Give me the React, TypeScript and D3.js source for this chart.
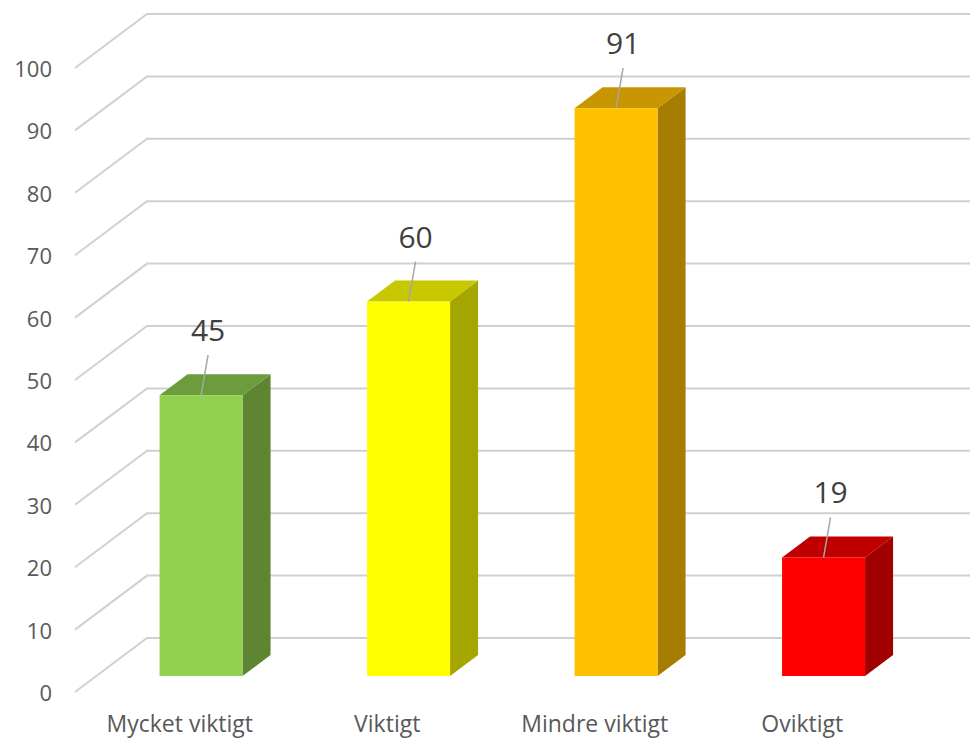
import React from "react";
import * as d3 from "d3";

const categories = ["Mycket viktigt", "Viktigt", "Mindre viktigt", "Oviktigt"];
const values = [45, 60, 91, 19];
const frontColors = ["#92d050", "#ffff00", "#ffc000", "#ff0000"];
const topColors = ["#6c9c3c", "#c8c800", "#c89600", "#c00000"];
const sideColors = ["#5e8532", "#a6a600", "#a67d00", "#a00000"];
const yTicks = [0, 10, 20, 30, 40, 50, 60, 70, 80, 90, 100];

const W = 970;
const H = 738;
const DEPTH_X = 72;
const DEPTH_Y = -54;
const Z_FRONT = 0.296;
const Z_BACK = 0.685;
const FONT = "'Open Sans', 'Liberation Sans', sans-serif";

export default function App() {
  const y = d3.scaleLinear().domain([0, 100]).range([692, 68]);
  const x = d3
    .scaleBand<string>()
    .domain(categories)
    .range([76, 906])
    .paddingInner(0.6)
    .paddingOuter(0.3);
  const bw = x.bandwidth();
  const fdx = DEPTH_X * Z_FRONT;
  const fdy = DEPTH_Y * Z_FRONT;
  const bdx = DEPTH_X * Z_BACK;
  const bdy = DEPTH_Y * Z_BACK;
  const pts = (p: [number, number][]) => p.map((q) => q.join(",")).join(" ");

  return (
    <svg
      width={W}
      height={H}
      style={{ position: "absolute", left: 0, top: 0, background: "#fff" }}
      fontFamily={FONT}
    >
      {yTicks.map((t) => (
        <g key={t}>
          <polyline
            points={pts([
              [75, y(t)],
              [75 + DEPTH_X, y(t) + DEPTH_Y],
              [W, y(t) + DEPTH_Y],
            ])}
            fill="none"
            stroke="#d0d0d0"
            strokeWidth={2}
          />
          <text
            x={52}
            y={y(t)}
            textAnchor="end"
            dominantBaseline="central"
            fontSize={22}
            fill="#595959"
          >
            {t}
          </text>
        </g>
      ))}
      {categories.map((c, i) => {
        const v = values[i];
        const x0 = (x(c) as number) + fdx;
        const x1 = x0 + bw;
        const yt = y(v) + fdy;
        const yb = y(0) + fdy;
        const ddx = bdx - fdx;
        const ddy = bdy - fdy;
        const cx = x0 + bw / 2;
        const labelY = yt - 54;
        const labelX = cx + 7;
        return (
          <g key={c}>
            <polygon
              points={pts([
                [x1, yt],
                [x1 + ddx, yt + ddy],
                [x1 + ddx, yb + ddy],
                [x1, yb],
              ])}
              fill={sideColors[i]}
            />
            <polygon
              points={pts([
                [x0, yt],
                [x1, yt],
                [x1 + ddx, yt + ddy],
                [x0 + ddx, yt + ddy],
              ])}
              fill={topColors[i]}
            />
            <rect x={x0} y={yt} width={bw} height={yb - yt} fill={frontColors[i]} />
            <line
              x1={labelX}
              y1={labelY + 14}
              x2={cx}
              y2={yt}
              stroke="#a6a6a6"
              strokeWidth={1.5}
            />
            <text x={labelX} y={labelY} textAnchor="middle" fontSize={30} fill="#404040">
              {v}
            </text>
            <text
              x={(x(c) as number) + bw / 2}
              y={732}
              textAnchor="middle"
              fontSize={23}
              fill="#595959"
            >
              {c}
            </text>
          </g>
        );
      })}
    </svg>
  );
}
